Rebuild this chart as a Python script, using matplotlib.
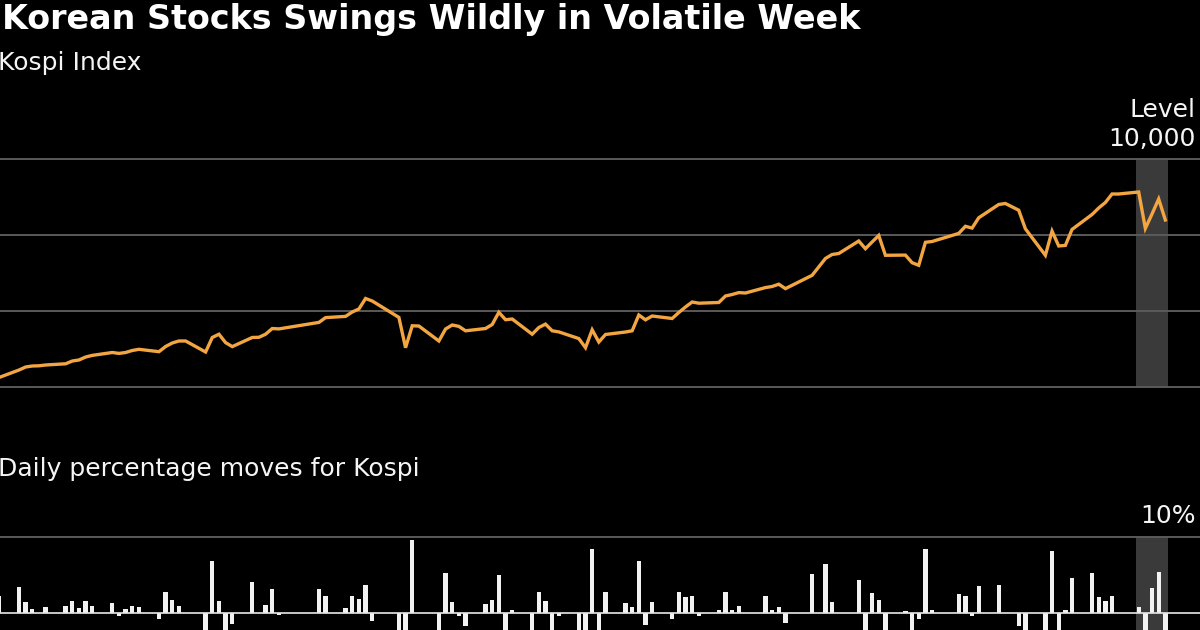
import matplotlib
matplotlib.use("Agg")
import matplotlib.pyplot as plt
import pandas as pd

# ---------------- data ----------------
title = "Korean Stocks Swings Wildly in Volatile Week"
top_label = "Kospi Index"
bottom_label = "Daily percentage moves for Kospi"
top_unit = "Level"
top_tick_labels = ["4,000", "6,000", "8,000", "10,000"]
top_ticks = [4000, 6000, 8000, 10000]
bottom_ticks = [-10, 0, 10]
bottom_tick_labels = ["-10%", "0", "10%"]

dates = [
    "2026-01-02", "2026-01-05", "2026-01-06", "2026-01-07", "2026-01-08", "2026-01-09",
    "2026-01-12", "2026-01-13", "2026-01-14", "2026-01-15", "2026-01-16",
    "2026-01-19", "2026-01-20", "2026-01-21", "2026-01-22", "2026-01-23",
    "2026-01-26", "2026-01-27", "2026-01-28", "2026-01-29", "2026-01-30",
    "2026-02-02", "2026-02-03", "2026-02-04", "2026-02-05", "2026-02-06",
    "2026-02-09", "2026-02-10", "2026-02-11", "2026-02-12", "2026-02-13",
    "2026-02-19", "2026-02-20",
    "2026-02-23", "2026-02-24", "2026-02-25", "2026-02-26", "2026-02-27",
    "2026-03-03", "2026-03-04", "2026-03-05", "2026-03-06",
    "2026-03-09", "2026-03-10", "2026-03-11", "2026-03-12", "2026-03-13",
    "2026-03-16", "2026-03-17", "2026-03-18", "2026-03-19", "2026-03-20",
    "2026-03-23", "2026-03-24", "2026-03-25", "2026-03-26", "2026-03-27",
    "2026-03-30", "2026-03-31", "2026-04-01", "2026-04-02", "2026-04-03",
    "2026-04-06", "2026-04-07", "2026-04-08", "2026-04-09", "2026-04-10",
    "2026-04-13", "2026-04-14", "2026-04-15", "2026-04-16", "2026-04-17",
    "2026-04-20", "2026-04-21", "2026-04-22", "2026-04-23", "2026-04-24",
    "2026-04-27", "2026-04-28", "2026-04-29", "2026-04-30",
    "2026-05-04", "2026-05-06", "2026-05-07", "2026-05-08",
    "2026-05-11", "2026-05-12", "2026-05-13", "2026-05-14", "2026-05-15",
    "2026-05-18", "2026-05-19", "2026-05-20", "2026-05-21", "2026-05-22",
    "2026-05-26", "2026-05-27", "2026-05-28", "2026-05-29",
    "2026-06-01", "2026-06-02", "2026-06-04", "2026-06-05",
    "2026-06-08", "2026-06-09", "2026-06-10", "2026-06-11", "2026-06-12",
    "2026-06-15", "2026-06-16", "2026-06-17", "2026-06-18", "2026-06-19",
    "2026-06-22", "2026-06-23", "2026-06-24", "2026-06-25", "2026-06-26",
]

kospi = [
    4250, 4447, 4526, 4553, 4558, 4579, 4611, 4684, 4711, 4789, 4832,
    4908, 4884, 4908, 4961, 4992, 4929, 5066, 5158, 5211, 5211,
    4921, 5303, 5389, 5168, 5063, 5303, 5308, 5389, 5539, 5529,
    5700, 5826, 5858, 5974, 6053, 6329, 6263,
    5832, 5034, 5611, 5605, 5211, 5526, 5632, 5595, 5479,
    5539, 5645, 5966, 5771, 5789, 5389, 5566, 5655, 5479, 5450,
    5274, 5034, 5505, 5184, 5382,
    5447, 5479, 5895, 5768, 5868, 5803, 5961, 6105, 6237, 6205,
    6224, 6395, 6434, 6484, 6474, 6616, 6645, 6705, 6589,
    6939, 7382, 7487, 7513, 7842, 7639, 7816, 7987, 7466,
    7471, 7271, 7203, 7808, 7829, 8042, 8229, 8182, 8453,
    8803, 8829, 8653, 8163, 7466, 8103, 7711, 7726, 8147,
    8539, 8711, 8855, 9079, 9079, 9132, 8174, 8553, 8947, 8395,
]

daily_moves = [
    2.2, 3.4, 1.5, 0.57, 0.0, 0.74, 0.87, 1.52, 0.65, 1.6, 0.9,
    1.3, -0.35, 0.52, 0.87, 0.74, -0.8, 2.7, 1.7, 0.96, 0.0,
    -5.6, 6.9, 1.6, -4.1, -1.45, 4.1, 0.0, 1.0, 3.1, -0.2,
    3.1, 2.3, 0.65, 2.2, 1.9, 3.7, -1.0,
    -6.9, -13.7, 9.6, 0.0, -7.0, 5.3, 1.4, -0.43, -1.74,
    1.17, 1.65, 5.0, -3.3, 0.35, -6.9, 2.74, 1.6, -3.1, -0.35,
    -3.2, -4.5, 8.4, -5.8, 2.7,
    1.36, 0.83, 6.9, -1.6, 1.4, -0.74, 2.74, 2.1, 2.2, -0.43,
    0.43, 2.74, 0.43, 0.87, 0.0, 2.2, 0.35, 0.74, -1.3,
    5.1, 6.4, 1.43, 0.0, 4.35, -2.6, 2.6, 1.74, -6.5,
    0.3, -2.7, -0.74, 8.4, 0.43, 2.5, 2.26, -0.43, 3.57,
    3.7, 0.0, -1.74, -5.7, -8.5, 8.2, -4.8, 0.43, 4.65,
    5.2, 2.1, 1.6, 2.26, 0.0, 0.74, -10.5, 3.26, 5.4, -6.2,
]

highlight_start = "2026-06-22"
highlight_end = "2026-06-26"

# ---------------- styling ----------------
BG = "#000000"
LINE = "#f2a541"
GRID = "#5a5a5a"
BAND = "#3a3a3a"
BAR = "#f2f2f2"
TXT = "#f5f5f5"
FONT = "DejaVu Sans"

W, H = 1200, 630
fig = plt.figure(figsize=(W / 100, H / 100), dpi=100, facecolor=BG)

origin = pd.Timestamp("2026-01-02")
x = [(pd.Timestamp(d) - origin).days for d in dates]
hs = (pd.Timestamp(highlight_start) - origin).days
he = (pd.Timestamp(highlight_end) - origin).days
xlim = (0.15, 180.2)


def fy(px):
    return 1 - px / H


# top panel: 4,000 at y=387px, 10,000 at y=159px
ax1 = fig.add_axes([0, fy(387), 1, (387 - 159) / H])
ax1.set_facecolor(BG)
ax1.set_xlim(*xlim)
ax1.set_ylim(top_ticks[0], top_ticks[-1])
ax1.axvspan(hs - 0.33, he + 0.33, color=BAND, lw=0, zorder=1)
for t in top_ticks:
    ax1.axhline(t, color=GRID, lw=1.4, zorder=2, clip_on=False)
ax1.plot(x, kospi, color=LINE, lw=2.4, solid_joinstyle="miter", zorder=3)
ax1.axis("off")

# bottom panel: 10% at y=537px, 0 at 613px
ax2 = fig.add_axes([0, fy(689), 1, (689 - 537) / H])
ax2.set_facecolor(BG)
ax2.set_xlim(*xlim)
ax2.set_ylim(bottom_ticks[0], bottom_ticks[-1])
ax2.axvspan(hs - 0.33, he + 0.33, color=BAND, lw=0, zorder=1)
for t in bottom_ticks:
    if t == 0:
        continue
    ax2.axhline(t, color=GRID, lw=1.4, zorder=2, clip_on=False)
ax2.bar(x, daily_moves, width=0.65, color=BAR, lw=0, zorder=3)
ax2.axhline(0, color="#e8e8e8", lw=1.2, zorder=4)
ax2.axis("off")

# texts (kept fully inside the canvas)
fig.text(2 / W, fy(29), title, color="#ffffff", fontsize=24,
         fontweight="bold", family=FONT, va="baseline", ha="left")
fig.text(-1.5 / W, fy(70), top_label, color=TXT, fontsize=18,
         family=FONT, va="baseline", ha="left")
fig.text(-1.5 / W, fy(476), bottom_label, color=TXT, fontsize=18,
         family=FONT, va="baseline", ha="left")
fig.text(1196 / W, fy(117), top_unit, color=TXT, fontsize=18,
         family=FONT, va="baseline", ha="right")
fig.text(1196 / W, fy(146), top_tick_labels[-1], color=TXT, fontsize=18,
         family=FONT, va="baseline", ha="right")
fig.text(1196 / W, fy(523), bottom_tick_labels[-1], color=TXT, fontsize=18,
         family=FONT, va="baseline", ha="right")

fig.savefig("out.png", dpi=100, facecolor=BG)
